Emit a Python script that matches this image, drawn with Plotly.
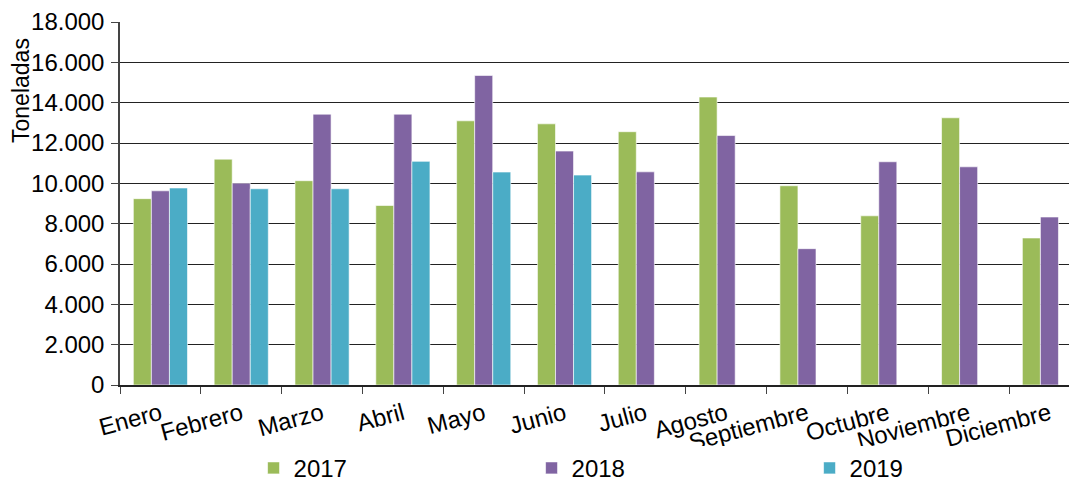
import plotly.graph_objects as go

months = ["Enero", "Febrero", "Marzo", "Abril", "Mayo", "Junio", "Julio",
          "Agosto", "Septiembre", "Octubre", "Noviembre", "Diciembre"]
v2017 = [9240, 11200, 10130, 8900, 13100, 12950, 12560, 14280, 9880, 8390, 13250, 7290]
v2018 = [9630, 10010, 13430, 13430, 15350, 11600, 10570, 12370, 6760, 11070, 10820, 8330]
v2019 = [9770, 9730, 9730, 11090, 10560, 10410, None, None, None, None, None, None]
y_ticks = [0, 2000, 4000, 6000, 8000, 10000, 12000, 14000, 16000, 18000]

FONT = "Liberation Sans, Arial, sans-serif"
colors = {"2017": "#9BBB59", "2018": "#8064A2", "2019": "#4BACC6"}

fig = go.Figure()
for name, vals in [("2017", v2017), ("2018", v2018), ("2019", v2019)]:
    fig.add_trace(go.Bar(
        x=months, y=vals, name=name,
        marker=dict(color=colors[name], line=dict(color="rgba(255,255,255,0.6)", width=1)),
    ))

fig.update_layout(
    width=1077, height=483,
    margin=dict(l=112, r=0, t=14, b=106, autoexpand=False),
    paper_bgcolor="white", plot_bgcolor="white",
    barmode="group", bargap=0.33, bargroupgap=0,
    separators=",.",
    font=dict(family=FONT, size=24, color="black"),
    showlegend=True,
    legend=dict(orientation="h", xref="container", yref="container",
                x=0.228, y=0.047, xanchor="left", yanchor="middle",
                entrywidth=233, entrywidthmode="pixels", itemwidth=30,
                font=dict(family=FONT, size=24, color="black"),
                traceorder="normal"),
)
fig.update_xaxes(
    type="category", range=[-0.5, 11.44], automargin=False,
    showline=True, linecolor="#222", linewidth=1.5,
    ticks="outside", tickson="boundaries", ticklen=7, tickcolor="#444",
    tickangle=-15, tickfont=dict(family=FONT, size=24, color="black"),
    ticklabelstandoff=4,
    showgrid=False,
)
fig.update_yaxes(
    range=[0, 18000], tickvals=y_ticks, tickformat=",d", automargin=False,
    showline=True, linecolor="#444", linewidth=1.5,
    ticks="outside", ticklen=7, tickcolor="#444",
    showgrid=True, gridcolor="#222", gridwidth=1.4,
    zeroline=False, ticklabelstandoff=2,
    tickfont=dict(family=FONT, size=24, color="black"),
)
fig.add_annotation(
    text="Toneladas", xref="paper", yref="paper",
    x=(21 - 120) / 965, y=0.81, xanchor="center", yanchor="middle",
    textangle=-90, showarrow=False, borderpad=0,
    font=dict(family=FONT, size=23, color="black"),
)
fig.write_html("out.html")
